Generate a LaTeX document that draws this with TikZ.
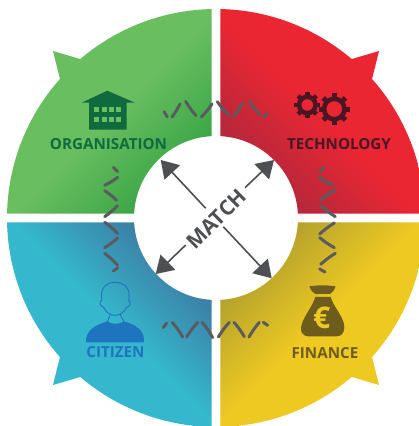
\documentclass[tikz,border=0pt]{standalone}
\usepackage{fontspec}
\setmainfont{Open Sans}
\usetikzlibrary{arrows.meta}
\definecolor{gL}{HTML}{69BE60}\definecolor{gD}{HTML}{37A444}
\definecolor{rL}{HTML}{EA2632}\definecolor{rD}{HTML}{AE283C}
\definecolor{bL}{HTML}{35B8CD}\definecolor{bD}{HTML}{3D78A0}
\definecolor{yL}{HTML}{EEC922}\definecolor{yD}{HTML}{AE9E2D}
\definecolor{gT}{HTML}{0F6B3E}\definecolor{rT}{HTML}{4A1623}
\definecolor{bT}{HTML}{1F74C0}\definecolor{yT}{HTML}{6E5C1C}
\definecolor{ink}{HTML}{4D4F53}\definecolor{wave}{HTML}{5A5B5E}
\pgfdeclareverticalshading{shG}{100bp}{color(0bp)=(gD);color(26bp)=(gD);color(49bp)=(gL);color(100bp)=(gL)}
\pgfdeclareverticalshading{shR}{100bp}{color(0bp)=(rD);color(26bp)=(rD);color(49bp)=(rL);color(100bp)=(rL)}
\pgfdeclareverticalshading{shB}{100bp}{color(0bp)=(bD);color(26bp)=(bD);color(49bp)=(bL);color(100bp)=(bL)}
\pgfdeclareverticalshading{shY}{100bp}{color(0bp)=(yD);color(26bp)=(yD);color(49bp)=(yL);color(100bp)=(yL)}
\newcommand{\QuadPath}{(181.18:209) arc[start angle=181.18,end angle=221.7,radius=209]
  -- (-163,-167) -- (229.5:209) arc[start angle=229.5,end angle=268.82,radius=209]
  -- (267:82) arc[start angle=267,end angle=183,radius=82] -- cycle}
\tikzset{
  label/.style={font=\bfseries\fontsize{15.2}{15.2}\selectfont,inner sep=0pt},
  arr/.style={ink,line width=1.6pt,-{Stealth[length=17pt,width=21pt,inset=0pt]}},
  zoomA/.style={x=0.3333pt,y=-0.3333pt},
  wv/.style={wave,line width=3pt,line cap=round},
  gearring/.style={rT,line width=4.5pt},
  tooth/.style={rT,line width=4.4pt}
}
\begin{document}
\begin{tikzpicture}[x=1pt,y=-1pt]
\useasboundingbox (0,0) rectangle (419,426);
\fill[white] (0,0) rectangle (419,426);
% quadrants
\begin{scope}[shift={(216,218)}]
\shade[shading=shG,shading angle=45] \QuadPath;
\begin{scope}[xscale=-1]
\shade[shading=shR,shading angle=-45] \QuadPath;
\end{scope}
\begin{scope}[yscale=-1]
\shade[shading=shB,shading angle=135] \QuadPath;
\end{scope}
\begin{scope}[xscale=-1,yscale=-1]
\shade[shading=shY,shading angle=-135] \QuadPath;
\end{scope}
\end{scope}
% waves
\begin{scope}[shift={(150,85)},zoomA]
\foreach \a/\b/\c/\d in {42/80/52/96,66/96/90/57,107/49/138/92,154/96/186/57,202/50/238/92,252/93/277/54,299/49/328/88,353/86/340/96}
  \draw[wv] (\a,\b) to[bend right=5] (\c,\d);
\end{scope}
\begin{scope}[shift={(150,310)},zoomA]
\foreach \a/\b/\c/\d in {40/53/50/39,67/37/98/81,110/81/143/37,157/37/188/83,205/81/238/37,252/37/283/80,297/81/328/37,340/37/353/46}
  \draw[wv] (\a,\b) to[bend left=5] (\c,\d);
\end{scope}
\begin{scope}[shift={(90,160)},zoomA]
\foreach \a/\b/\c/\d in {70/22/83/35,83/52/44/76,44/92/80/121,83/137/44/170,44/187/83/220,83/234/44/263,44/280/83/316,83/324/70/333}
  \draw[wv] (\a,\b) to[bend left=5] (\c,\d);
\end{scope}
\begin{scope}[shift={(305,160)},zoomA]
\foreach \a/\b/\c/\d in {58/22/44/35,44/52/83/76,90/90/47/120,47/137/91/170,88/189/44/222,44/233/88/263,91/280/47/313,44/327/60/336}
  \draw[wv] (\a,\b) to[bend right=5] (\c,\d);
\end{scope}
% house
\fill[gT] (107.3,90.7) -- (135,102.7) -- (126.7,102.7) -- (126.7,129.5) -- (89,129.5) -- (89,102.7) -- (81.7,102.7) -- cycle;
\foreach \x in {94.3,101.7,109,116}
  \foreach \y in {106.7,116.7}
    \fill[gL] (\x,\y) rectangle ++(5,5.3);
% gears
\coordinate (g1) at (307.3,105);
\coordinate (g2) at (334.3,109);
\draw[gearring] (g1) circle (8.2);
\draw[gearring] (g2) circle (10.2);
\foreach \a in {0,45,...,315}{
  \draw[tooth] (g1) ++(\a:9) -- ++(\a:4);
  \draw[tooth,line width=5pt] (g2) ++(\a:11) -- ++(\a:4.7);
}
% citizen
\begin{scope}[shift={(0,213)},zoomA]
\draw[bT,line width=0.9pt] (306,262) .. controls (298,225) and (320,208) .. (345,208) .. controls (372,208) and (394,225) .. (386,262)
  .. controls (394,262) and (392,282) .. (380,283) .. controls (372,298) and (360,307) .. (345,307)
  .. controls (330,307) and (318,298) .. (311,283) .. controls (300,282) and (296,262) .. (306,262);
\draw[bT,line width=0.9pt] (332,303) -- (322,326) (360,303) -- (372,326);
\fill[bT] (258,388) .. controls (256,350) and (290,335) .. (322,325) .. controls (335,335) and (358,335) .. (372,325)
  .. controls (405,335) and (435,350) .. (432,388) -- cycle;
\end{scope}
% money bag
\begin{scope}[shift={(210,213)},zoomA]
\fill[yT] (298,220) .. controls (325,216) and (350,216) .. (377,220) .. controls (375,230) and (368,238) .. (360,243) -- (316,243) .. controls (308,238) and (300,230) .. (298,220) -- cycle;
\fill[yT] (316,252) -- (362,252) .. controls (372,285) and (405,315) .. (403,345) .. controls (402,362) and (392,370) .. (380,370)
  -- (295,370) .. controls (280,370) and (272,358) .. (273,345) .. controls (276,315) and (306,285) .. (316,252) -- cycle;
\node[text=yL,font=\bfseries\fontsize{30}{30}\selectfont,inner sep=0pt] (euro) at (335,316) {€};
\end{scope}
% labels
\node[label,text=gT] (org) at (108.5,144.5) {ORGANISATION};
\node[label,text=rT] (tech) at (339,144) {TECHNOLOGY};
\node[label,text=bT] (cit) at (115.5,352) {CITIZEN};
\node[label,text=yT] (fin) at (325,353) {FINANCE};
% centre
\node[rotate=45,text=ink,font=\bfseries\fontsize{21}{21}\selectfont,inner sep=0pt] (match) at (216.5,219) {MATCH};
\coordinate (nwS) at (205.7,208.3); \coordinate (nwT) at (160.7,160);
\coordinate (neS) at (245,187.7);   \coordinate (neT) at (274,160);
\coordinate (swS) at (185.7,245);   \coordinate (swT) at (155.7,274);
\coordinate (seS) at (223.3,226.7); \coordinate (seT) at (271.7,278.3);
\draw[arr] (nwS) -- (nwT);
\draw[arr] (neS) -- (neT);
\draw[arr] (swS) -- (swT);
\draw[arr] (seS) -- (seT);
\end{tikzpicture}
\end{document}
